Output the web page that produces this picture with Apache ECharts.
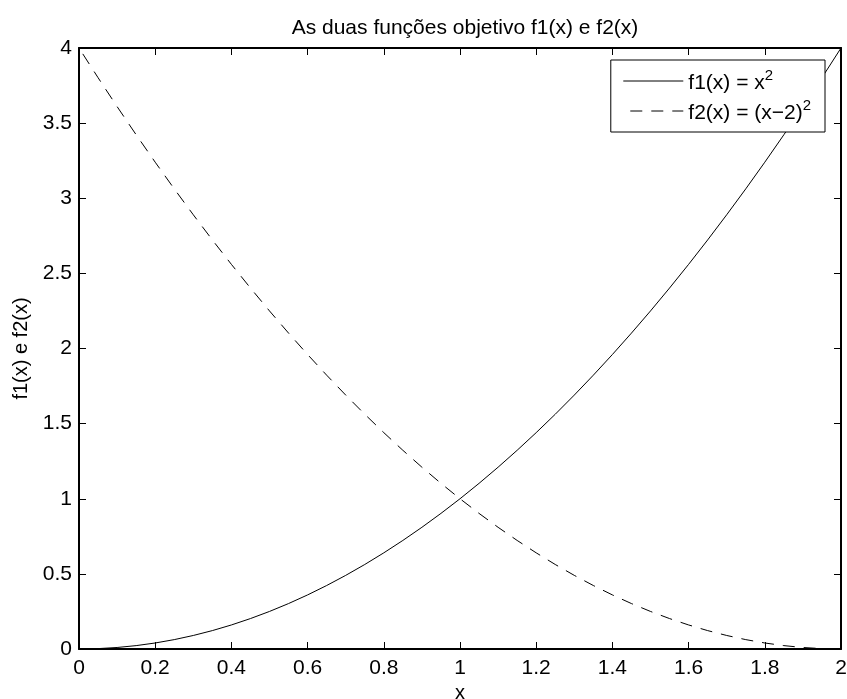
<!DOCTYPE html>
<html>
<head>
<meta charset="utf-8">
<script src="https://cdn.jsdelivr.net/npm/echarts@6/dist/echarts.min.js"></script>
<style>
  html, body { margin: 0; padding: 0; background: #fff; }
  #chart { width: 847px; height: 699px; }
</style>
</head>
<body>
<div id="chart"></div>
<script>
// Sample positions along x
const xValues = [0, 0.05, 0.1, 0.15, 0.2, 0.25, 0.3, 0.35, 0.4, 0.45, 0.5, 0.55, 0.6, 0.65, 0.7, 0.75,
  0.8, 0.85, 0.9, 0.95, 1.0, 1.05, 1.1, 1.15, 1.2, 1.25, 1.3, 1.35, 1.4, 1.45, 1.5, 1.55, 1.6, 1.65,
  1.7, 1.75, 1.8, 1.85, 1.9, 1.95, 2.0];

// f1(x) = x^2
const f1Values = [0, 0.0025, 0.01, 0.0225, 0.04, 0.0625, 0.09, 0.1225, 0.16, 0.2025, 0.25, 0.3025,
  0.36, 0.4225, 0.49, 0.5625, 0.64, 0.7225, 0.81, 0.9025, 1.0, 1.1025, 1.21, 1.3225, 1.44, 1.5625,
  1.69, 1.8225, 1.96, 2.1025, 2.25, 2.4025, 2.56, 2.7225, 2.89, 3.0625, 3.24, 3.4225, 3.61, 3.8025, 4.0];

// f2(x) = (x-2)^2
const f2Values = [4.0, 3.8025, 3.61, 3.4225, 3.24, 3.0625, 2.89, 2.7225, 2.56, 2.4025, 2.25, 2.1025,
  1.96, 1.8225, 1.69, 1.5625, 1.44, 1.3225, 1.21, 1.1025, 1.0, 0.9025, 0.81, 0.7225, 0.64, 0.5625,
  0.49, 0.4225, 0.36, 0.3025, 0.25, 0.2025, 0.16, 0.1225, 0.09, 0.0625, 0.04, 0.0225, 0.01, 0.0025, 0];

const xTicks = [0, 0.2, 0.4, 0.6, 0.8, 1, 1.2, 1.4, 1.6, 1.8, 2];
const yTicks = [0, 0.5, 1, 1.5, 2, 2.5, 3, 3.5, 4];

const titleText = 'As duas funções objetivo f1(x) e f2(x)';
const xLabel = 'x';
const yLabel = 'f1(x) e f2(x)';
const seriesNames = ['f1(x) = x^2', 'f2(x) = (x-2)^2'];

const FONT = '"Liberation Sans", Arial, Helvetica, sans-serif';

const pair = (ys) => xValues.map((x, i) => [x, ys[i]]);

const axisCommon = {
  type: 'value',
  axisLine: { show: true, onZero: false, lineStyle: { color: '#000', width: 2 } },
  axisTick: { show: true, inside: true, length: 7, lineStyle: { color: '#000', width: 1 } },
  splitLine: { show: false }
};

const chart = echarts.init(document.getElementById('chart'), null, { renderer: 'canvas' });

chart.setOption({
  backgroundColor: '#fff',
  animation: false,
  title: {
    text: titleText,
    left: 460,
    textAlign: 'center',
    top: 13,
    textStyle: { fontFamily: FONT, fontSize: 21, fontWeight: 'normal', color: '#000' }
  },
  legend: {
    orient: 'vertical',
    right: 22,
    top: 60,
    padding: [8, 14, 8, 12],
    itemGap: 4,
    itemWidth: 60,
    itemHeight: 2,
    backgroundColor: '#fff',
    borderColor: '#000',
    borderWidth: 1,
    itemStyle: { color: 'rgba(0,0,0,0)', borderColor: 'rgba(0,0,0,0)', borderWidth: 0 },
    lineStyle: { width: 1 },
    data: seriesNames,
    formatter: function (name) {
      const parts = name.split('^');
      return '{b|' + parts[0].replace('x-2', 'x\u22122') + '}{s|' + parts[1] + '}';
    },
    textStyle: {
      fontFamily: FONT,
      color: '#000',
      rich: {
        b: { fontFamily: FONT, fontSize: 21, color: '#000', lineHeight: 26, verticalAlign: 'bottom' },
        s: { fontFamily: FONT, fontSize: 15, color: '#000', lineHeight: 26, verticalAlign: 'top' }
      }
    }
  },
  grid: {
    left: 79,
    right: 6,
    top: 48,
    bottom: 50,
    show: false,
    outerBoundsMode: 'none',
    containLabel: false
  },
  xAxis: [
    Object.assign({}, axisCommon, {
      min: xTicks[0],
      max: xTicks[xTicks.length - 1],
      interval: 0.2,
      position: 'bottom',
      name: xLabel,
      nameLocation: 'middle',
      nameGap: 32,
      nameTextStyle: { fontFamily: FONT, fontSize: 20, color: '#000' },
      axisLabel: {
        margin: 9,
        fontFamily: FONT, fontSize: 21, color: '#000',
        formatter: (v) => String(Math.round(v * 10) / 10)
      }
    }),
    Object.assign({}, axisCommon, {
      min: xTicks[0],
      max: xTicks[xTicks.length - 1],
      interval: 0.2,
      position: 'top',
      axisLabel: { show: false }
    })
  ],
  yAxis: [
    Object.assign({}, axisCommon, {
      min: yTicks[0],
      max: yTicks[yTicks.length - 1],
      interval: 0.5,
      position: 'left',
      name: yLabel,
      nameLocation: 'middle',
      nameGap: 48,
      nameRotate: 90,
      nameTextStyle: { fontFamily: FONT, fontSize: 20, color: '#000' },
      axisLabel: { margin: 7, fontFamily: FONT, fontSize: 21, color: '#000' }
    }),
    Object.assign({}, axisCommon, {
      min: yTicks[0],
      max: yTicks[yTicks.length - 1],
      interval: 0.5,
      position: 'right',
      axisLabel: { show: false }
    })
  ],
  series: [
    {
      name: seriesNames[0],
      type: 'line',
      xAxisIndex: 0,
      yAxisIndex: 0,
      data: pair(f1Values),
      symbol: 'none',
      smooth: false,
      clip: true,
      lineStyle: { color: '#000', width: 1, type: 'solid' },
      itemStyle: { color: '#000' }
    },
    {
      name: seriesNames[1],
      type: 'line',
      xAxisIndex: 0,
      yAxisIndex: 0,
      data: pair(f2Values),
      symbol: 'none',
      smooth: false,
      clip: true,
      lineStyle: { color: '#000', width: 1, type: [12, 9], dashOffset: 14 },
      itemStyle: { color: '#000' }
    }
  ]
});
</script>
</body>
</html>
